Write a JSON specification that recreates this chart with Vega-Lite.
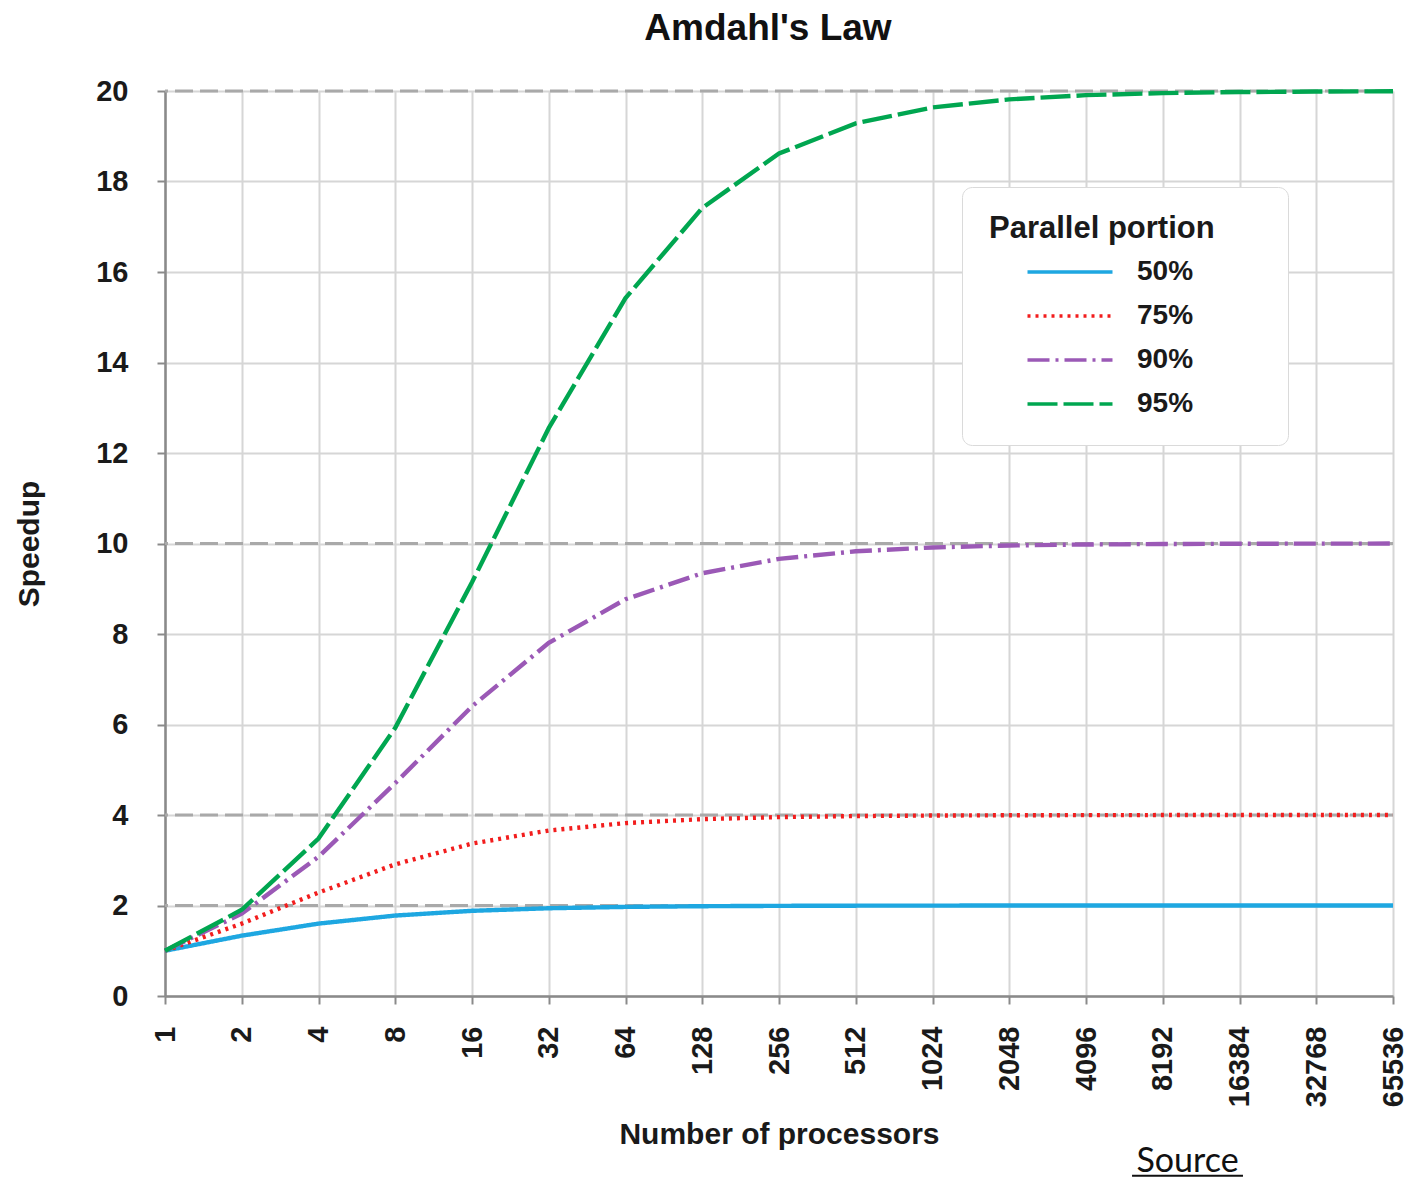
{
  "$schema": "https://vega.github.io/schema/vega-lite/v6.json",
  "width": 1228,
  "height": 905,
  "autosize": {"type": "none"},
  "padding": {"left": 165, "top": 91, "right": 18, "bottom": 182},
  "background": "white",
  "title": {"text": "Amdahl's Law", "font": "Liberation Sans", "fontSize": 37, "fontWeight": "bold", "color": "#111111", "offset": 29, "dx": -11, "anchor": "middle"},
  "config": {
    "view": {"stroke": null},
    "axis": {
      "labelFont": "Liberation Sans", "labelFontSize": 29, "labelFontWeight": "bold", "labelColor": "#1a1a1a",
      "titleFont": "Liberation Sans", "titleFontSize": 30, "titleFontWeight": "bold", "titleColor": "#1a1a1a",
      "gridColor": "#d6d6d6", "gridWidth": 2, "domainColor": "#8a8a8a", "domainWidth": 2.5,
      "tickColor": "#8a8a8a", "tickWidth": 2, "tickSize": 8
    },
    "legend": {
      "fillColor": "white", "strokeColor": "#dadada", "cornerRadius": 10, "padding": 27,
      "titleFont": "Liberation Sans", "titleFontSize": 31, "titleFontWeight": "bold", "titleColor": "#1a1a1a", "titlePadding": 4, "titleLimit": 600,
      "labelFont": "Liberation Sans", "labelFontSize": 28, "labelFontWeight": "bold", "labelColor": "#1a1a1a", "labelLimit": 400,
      "symbolType": "M-2,0H2", "symbolSize": 1806, "symbolStrokeWidth": 3.5, "symbolOffset": 58, "labelOffset": 44, "rowPadding": 7
    }
  },
  "datasets": {
    "curves": [
      {"n": 1, "portion": "50%", "speedup": 1}, {"n": 2, "portion": "50%", "speedup": 1.3333}, {"n": 4, "portion": "50%", "speedup": 1.6}, {"n": 8, "portion": "50%", "speedup": 1.7778}, {"n": 16, "portion": "50%", "speedup": 1.8824}, {"n": 32, "portion": "50%", "speedup": 1.9394}, {"n": 64, "portion": "50%", "speedup": 1.9692}, {"n": 128, "portion": "50%", "speedup": 1.9845}, {"n": 256, "portion": "50%", "speedup": 1.9922}, {"n": 512, "portion": "50%", "speedup": 1.9961}, {"n": 1024, "portion": "50%", "speedup": 1.998}, {"n": 2048, "portion": "50%", "speedup": 1.999}, {"n": 4096, "portion": "50%", "speedup": 1.9995}, {"n": 8192, "portion": "50%", "speedup": 1.9998}, {"n": 16384, "portion": "50%", "speedup": 1.9999}, {"n": 32768, "portion": "50%", "speedup": 1.9999}, {"n": 65536, "portion": "50%", "speedup": 2.0},
      {"n": 1, "portion": "75%", "speedup": 1}, {"n": 2, "portion": "75%", "speedup": 1.6}, {"n": 4, "portion": "75%", "speedup": 2.2857}, {"n": 8, "portion": "75%", "speedup": 2.9091}, {"n": 16, "portion": "75%", "speedup": 3.3684}, {"n": 32, "portion": "75%", "speedup": 3.6571}, {"n": 64, "portion": "75%", "speedup": 3.8209}, {"n": 128, "portion": "75%", "speedup": 3.9084}, {"n": 256, "portion": "75%", "speedup": 3.9537}, {"n": 512, "portion": "75%", "speedup": 3.9767}, {"n": 1024, "portion": "75%", "speedup": 3.9883}, {"n": 2048, "portion": "75%", "speedup": 3.9942}, {"n": 4096, "portion": "75%", "speedup": 3.9971}, {"n": 8192, "portion": "75%", "speedup": 3.9985}, {"n": 16384, "portion": "75%", "speedup": 3.9993}, {"n": 32768, "portion": "75%", "speedup": 3.9996}, {"n": 65536, "portion": "75%", "speedup": 3.9998},
      {"n": 1, "portion": "90%", "speedup": 1}, {"n": 2, "portion": "90%", "speedup": 1.8182}, {"n": 4, "portion": "90%", "speedup": 3.0769}, {"n": 8, "portion": "90%", "speedup": 4.7059}, {"n": 16, "portion": "90%", "speedup": 6.4}, {"n": 32, "portion": "90%", "speedup": 7.8049}, {"n": 64, "portion": "90%", "speedup": 8.7671}, {"n": 128, "portion": "90%", "speedup": 9.3431}, {"n": 256, "portion": "90%", "speedup": 9.6604}, {"n": 512, "portion": "90%", "speedup": 9.8273}, {"n": 1024, "portion": "90%", "speedup": 9.9129}, {"n": 2048, "portion": "90%", "speedup": 9.9562}, {"n": 4096, "portion": "90%", "speedup": 9.9781}, {"n": 8192, "portion": "90%", "speedup": 9.989}, {"n": 16384, "portion": "90%", "speedup": 9.9945}, {"n": 32768, "portion": "90%", "speedup": 9.9973}, {"n": 65536, "portion": "90%", "speedup": 9.9986},
      {"n": 1, "portion": "95%", "speedup": 1}, {"n": 2, "portion": "95%", "speedup": 1.9048}, {"n": 4, "portion": "95%", "speedup": 3.4783}, {"n": 8, "portion": "95%", "speedup": 5.9259}, {"n": 16, "portion": "95%", "speedup": 9.1429}, {"n": 32, "portion": "95%", "speedup": 12.549}, {"n": 64, "portion": "95%", "speedup": 15.422}, {"n": 128, "portion": "95%", "speedup": 17.415}, {"n": 256, "portion": "95%", "speedup": 18.618}, {"n": 512, "portion": "95%", "speedup": 19.285}, {"n": 1024, "portion": "95%", "speedup": 19.636}, {"n": 2048, "portion": "95%", "speedup": 19.816}, {"n": 4096, "portion": "95%", "speedup": 19.908}, {"n": 8192, "portion": "95%", "speedup": 19.954}, {"n": 16384, "portion": "95%", "speedup": 19.977}, {"n": 32768, "portion": "95%", "speedup": 19.988}, {"n": 65536, "portion": "95%", "speedup": 19.994}
    ],
    "limits": [{"speedup": 2}, {"speedup": 4}, {"speedup": 10}, {"speedup": 20}],
    "note": [{"label": "Source"}]
  },
  "layer": [
    {
      "data": {"name": "limits"},
      "mark": {"type": "rule", "color": "#a9a9a9", "strokeWidth": 3, "strokeDash": [18, 7]},
      "encoding": {
        "y": {"field": "speedup", "type": "quantitative", "scale": {"domain": [0, 20], "nice": false, "zero": false}}
      }
    },
    {
      "data": {"name": "curves"},
      "mark": {"type": "line", "strokeWidth": 4.4, "strokeCap": "butt"},
      "encoding": {
        "x": {
          "field": "n", "type": "quantitative",
          "scale": {"type": "log", "base": 2, "domain": [1, 65536], "nice": false},
          "axis": {"values": [1, 2, 4, 8, 16, 32, 64, 128, 256, 512, 1024, 2048, 4096, 8192, 16384, 32768, 65536], "format": "d", "labelAngle": 270, "labelAlign": "right", "labelBaseline": "middle", "labelPadding": 22, "title": "Number of processors", "titlePadding": 13, "grid": true}
        },
        "y": {
          "field": "speedup", "type": "quantitative",
          "scale": {"domain": [0, 20], "nice": false, "zero": false},
          "axis": {"values": [0, 2, 4, 6, 8, 10, 12, 14, 16, 18, 20], "labelPadding": 29, "title": "Speedup", "titlePadding": 51, "grid": true}
        },
        "color": {
          "field": "portion", "type": "nominal",
          "scale": {"domain": ["50%", "75%", "90%", "95%"], "range": ["#1ea7e1", "#f21d1d", "#9b59b6", "#00a650"]},
          "legend": {"title": "Parallel portion\u2800\u2800", "orient": "none", "legendX": 797, "legendY": 96}
        },
        "strokeDash": {
          "field": "portion", "type": "nominal",
          "scale": {"domain": ["50%", "75%", "90%", "95%"], "range": [[1, 0], [3, 5], [22, 6, 3, 6], [30, 6]]},
          "legend": {"title": "Parallel portion\u2800\u2800", "orient": "none", "legendX": 797, "legendY": 96}
        }
      }
    },
    {
      "data": {"name": "note"},
      "mark": {"type": "text", "font": "Lato", "fontSize": 34, "color": "#111111", "align": "center", "baseline": "alphabetic"},
      "encoding": {
        "text": {"field": "label"},
        "x": {"datum": 10250, "scale": {"type": "log", "base": 2, "domain": [1, 65536], "nice": false}},
        "y": {"datum": -3.89, "scale": {"domain": [0, 20], "nice": false, "zero": false}}
      }
    },
    {
      "data": {"name": "note"},
      "mark": {"type": "rule", "color": "#111111", "strokeWidth": 2},
      "encoding": {
        "x": {"datum": 6208, "scale": {"type": "log", "base": 2, "domain": [1, 65536], "nice": false}},
        "x2": {"datum": 16907},
        "y": {"datum": -3.97, "scale": {"domain": [0, 20], "nice": false, "zero": false}}
      }
    }
  ]
}
